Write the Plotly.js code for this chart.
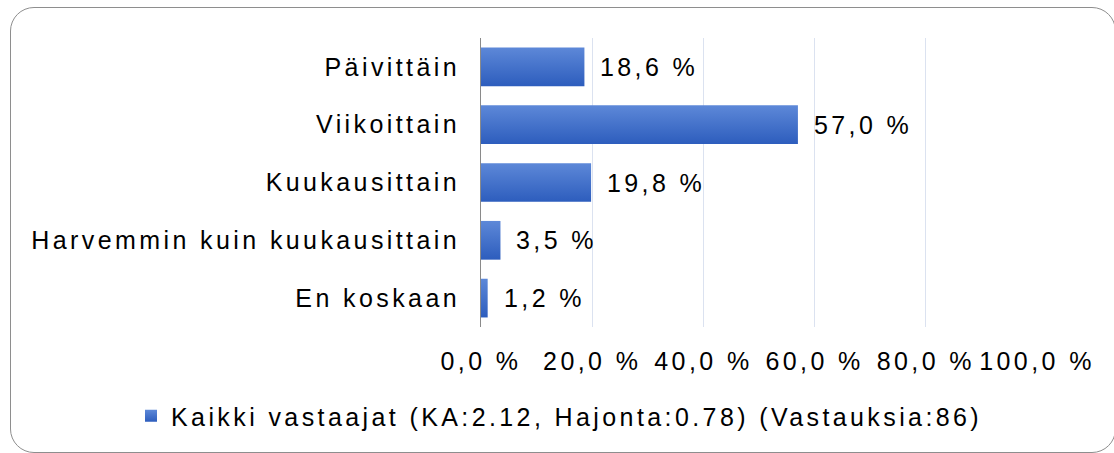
<!DOCTYPE html>
<html>
<head>
<meta charset="utf-8">
<script src="https://cdn.plot.ly/plotly-3.0.1.min.js"></script>
<style>
  html, body { margin: 0; padding: 0; background: #ffffff; }
  #wrap { position: relative; width: 1114px; height: 453px; overflow: hidden; background: #fff; }
  #chart { position: absolute; left: 0; top: 0; width: 1114px; height: 453px; }
  #frame { position: absolute; left: 10px; top: 7px; width: 1106px; height: 446px; box-sizing: border-box;
           border: 1.5px solid #8e8e8e; border-radius: 24px; pointer-events: none; }
  text { letter-spacing: 3.4px; }
  .barlayer .point path { fill: url(#barGrad) !important; }
  .legendpoints path { fill: url(#barGrad) !important; }
</style>
</head>
<body>
<svg width="0" height="0" style="position:absolute">
  <defs>
    <linearGradient id="barGrad" x1="0" y1="0" x2="0" y2="1">
      <stop offset="0" stop-color="#5d88d8"/>
      <stop offset="1" stop-color="#2d5dbd"/>
    </linearGradient>
  </defs>
</svg>
<div id="wrap">
  <div id="chart"></div>
  <div id="frame"></div>
</div>
<script>
const categories = ["Päivittäin", "Viikoittain", "Kuukausittain", "Harvemmin kuin kuukausittain", "En koskaan"];
const values = [18.6, 57.0, 19.8, 3.5, 1.2];
const seriesName = "Kaikki vastaajat (KA:2.12, Hajonta:0.78) (Vastauksia:86)";
const xTickVals = [0, 20, 40, 60, 80, 100];
const xTickText = ["0,0 %", "20,0 %", "40,0 %", "60,0 %", "80,0 %", "100,0 %"];

const fontFamily = '"Liberation Sans", Arial, sans-serif';
const textColor = '#000000';

const labelText = values.map(v => v.toFixed(1).replace('.', ',') + ' %');

const trace = {
  type: 'bar',
  orientation: 'h',
  y: categories,
  x: values,
  name: seriesName,
  marker: { color: '#4472c4', line: { width: 0 } },
  hoverinfo: 'none',
  showlegend: true
};

const annotations = values.map((v, i) => ({
  x: v, y: categories[i], xref: 'x', yref: 'y',
  text: labelText[i], showarrow: false, xanchor: 'left', yanchor: 'middle',
  xshift: 14,
  font: { family: fontFamily, size: 25, color: textColor }
}));

const layout = {
  width: 1114, height: 453,
  margin: { l: 481, r: 77, t: 37.5, b: 125.5, pad: 0 },
  paper_bgcolor: 'rgba(0,0,0,0)',
  plot_bgcolor: 'rgba(0,0,0,0)',
  font: { family: fontFamily, size: 25, color: textColor },
  bargap: 0.33,
  xaxis: {
    range: [0, 100], fixedrange: true,
    tickvals: xTickVals, ticktext: xTickText,
    showgrid: true, gridcolor: '#dbe2f0', gridwidth: 1,
    zeroline: false, showline: false, ticks: '',
    ticklabelstandoff: 17,
    tickfont: { family: fontFamily, size: 25, color: textColor }
  },
  yaxis: {
    type: 'category',
    categoryorder: 'array', categoryarray: categories,
    autorange: 'reversed', fixedrange: true,
    showgrid: false, zeroline: false,
    showline: true, linecolor: '#8a8a8a', linewidth: 1,
    ticks: '', ticklabelstandoff: 15,
    tickfont: { family: fontFamily, size: 25, color: textColor }
  },
  showlegend: true,
  legend: {
    orientation: 'h',
    xref: 'container', yref: 'container',
    x: 131 / 1114, xanchor: 'left',
    y: 1 - 416 / 453, yanchor: 'middle',
    font: { family: fontFamily, size: 25, color: textColor },
    bgcolor: 'rgba(0,0,0,0)', borderwidth: 0
  },
  annotations: annotations
};

Plotly.newPlot('chart', [trace], layout, { displayModeBar: false, staticPlot: true });
</script>
</body>
</html>
